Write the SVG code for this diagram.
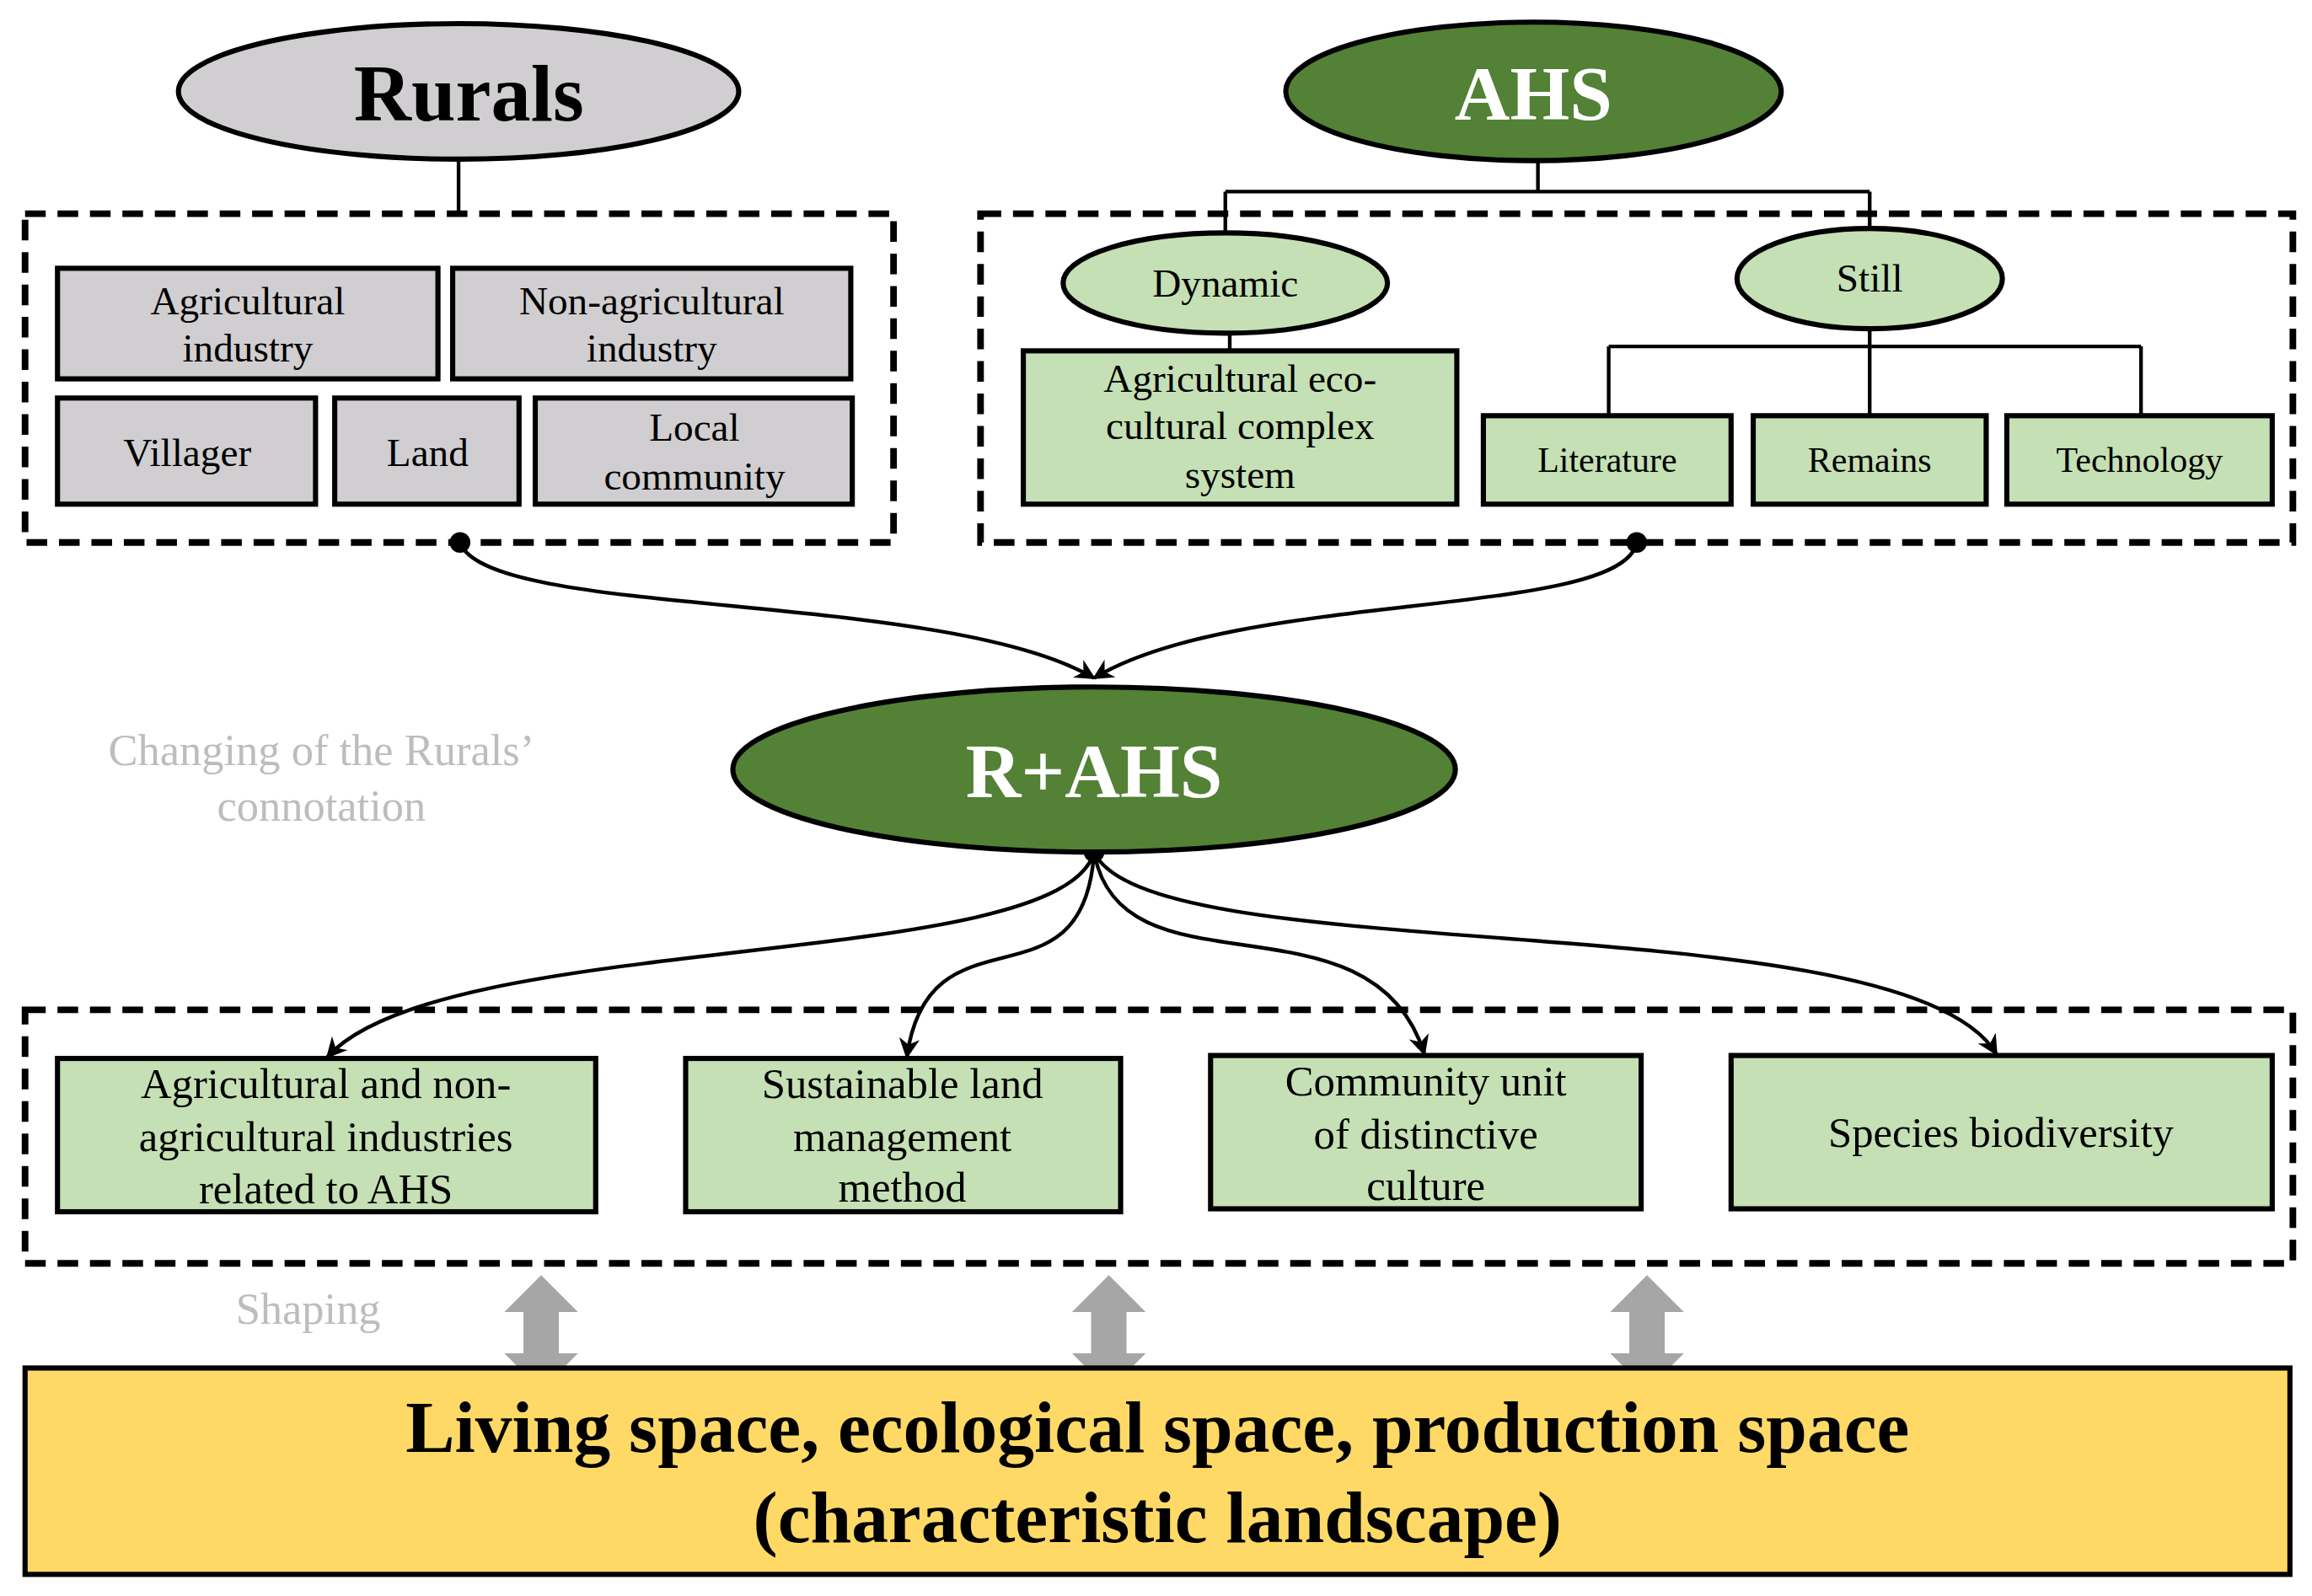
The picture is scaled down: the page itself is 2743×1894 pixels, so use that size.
<svg xmlns="http://www.w3.org/2000/svg" width="2743" height="1894" viewBox="0 0 2743 1894">
<style>
text{font-family:"Liberation Serif","DejaVu Serif",serif;text-anchor:middle;fill:#000}
.g{fill:#d0ced0;stroke:#000;stroke-width:3.5}
.lg{fill:#c5e0b4;stroke:#000;stroke-width:3.5}
.dg{fill:#538135;stroke:#000;stroke-width:3.5}
.dash{fill:none;stroke:#000;stroke-width:4.5;stroke-dasharray:14 8}
.ln{fill:none;stroke:#000;stroke-width:2.5}
.t{font-size:27px}
.s{font-size:24px}
.m{font-size:29px}
.w{fill:#fff;font-weight:bold;font-size:52px}
.gray{fill:#bdbdbd;font-size:30px}
.ga{fill:#a6a6a6}
</style>
<defs>
<marker id="ah" viewBox="0 0 10 10" refX="9" refY="5" markerWidth="7" markerHeight="7" orient="auto-start-reverse" markerUnits="userSpaceOnUse"><path d="M0,0 L10,5 L0,10 z"/></marker>
<marker id="ah2" viewBox="0 0 10 10" refX="9" refY="5" markerWidth="14" markerHeight="14" orient="auto" markerUnits="userSpaceOnUse"><path d="M0,0 L10,5 L0,10 L3,5 z"/></marker>
<path id="dbl" d="M0,-25 L25,0 L12,0 L12,28 L25,28 L0,53 L-25,28 L-12,28 L-12,0 L-25,0 z"/>
</defs>
<rect width="2743" height="1894" fill="#fff"/>
<g transform="scale(1.7494)">
<g id="connectors">
<line class="ln" x1="311" y1="108" x2="311" y2="145"/>
<path class="ln" d="M1043,109 V130 M831,130 H1268 M831,130 V158 M1268,130 V155"/>
<line class="ln" x1="834" y1="226" x2="834" y2="238"/>
<path class="ln" d="M1268,223 V282 M1091,235 H1452 M1091,235 V282 M1452,235 V282"/>
<circle cx="312" cy="368" r="7"/>
<circle cx="1110" cy="368" r="7"/>
<path class="ln" d="M312,368 C330,420 640,400 742,460" marker-end="url(#ah2)"/>
<path class="ln" d="M1110,368 C1100,420 840,400 742,460" marker-end="url(#ah2)"/>
<circle cx="742" cy="578" r="7"/>
<path class="ln" d="M742,578 C720,660 300,630 222,717" marker-end="url(#ah2)"/>
<path class="ln" d="M742,578 C735,690 630,610 615,717" marker-end="url(#ah2)"/>
<path class="ln" d="M742,578 C760,680 930,600 966,715" marker-end="url(#ah2)"/>
<path class="ln" d="M742,578 C780,660 1290,610 1354,715" marker-end="url(#ah2)"/>
<use href="#dbl" class="ga" x="367" y="890" transform="translate(0,0)"/>
<use href="#dbl" class="ga" x="752" y="890"/>
<use href="#dbl" class="ga" x="1117" y="890"/>
</g>
<g id="rurals"><ellipse class="g" cx="311" cy="62" rx="190" ry="46"/><text x="318" y="82" font-size="54" font-weight="bold">Rurals</text></g>
<rect class="dash" x="17" y="145" width="589" height="223"/>
<g id="agri"><rect class="g" x="39" y="182" width="258" height="75"/><text class="t" x="168" y="213">Agricultural</text><text class="t" x="168" y="245">industry</text></g>
<g id="nonagri"><rect class="g" x="307" y="182" width="270" height="75"/><text class="t" x="442" y="213">Non-agricultural</text><text class="t" x="442" y="245">industry</text></g>
<g id="villager"><rect class="g" x="39" y="270" width="175" height="72"/><text class="t" x="127" y="316">Villager</text></g>
<g id="land"><rect class="g" x="227" y="270" width="125" height="72"/><text class="t" x="290" y="316">Land</text></g>
<g id="local"><rect class="g" x="363" y="270" width="215" height="72"/><text class="t" x="471" y="299">Local</text><text class="t" x="471" y="332">community</text></g>
<g id="ahs"><ellipse class="dg" cx="1040" cy="62" rx="168" ry="47"/><text class="w" x="1040" y="81">AHS</text></g>
<rect class="dash" x="665" y="145" width="890" height="223"/>
<g id="dynamic"><ellipse class="lg" cx="831" cy="192" rx="110" ry="34"/><text class="t" x="831" y="201">Dynamic</text></g>
<g id="still"><ellipse class="lg" cx="1268" cy="189" rx="90" ry="34"/><text class="t" x="1268" y="198">Still</text></g>
<g id="aecc"><rect class="lg" x="694" y="238" width="294" height="104"/><text class="t" x="841" y="266">Agricultural eco-</text><text class="t" x="841" y="298">cultural complex</text><text class="t" x="841" y="331">system</text></g>
<g id="literature"><rect class="lg" x="1006" y="282" width="168" height="60"/><text class="s" x="1090" y="320">Literature</text></g>
<g id="remains"><rect class="lg" x="1189" y="282" width="158" height="60"/><text class="s" x="1268" y="320">Remains</text></g>
<g id="technology"><rect class="lg" x="1361" y="282" width="180" height="60"/><text class="s" x="1451" y="320">Technology</text></g>
<g id="rahs"><ellipse class="dg" cx="742" cy="522" rx="245" ry="56"/><text class="w" x="742" y="541">R+AHS</text></g>
<text class="gray" x="218" y="519">Changing of the Rurals’</text>
<text class="gray" x="218" y="557">connotation</text>
<rect class="dash" x="17" y="685" width="1538" height="172"/>
<g id="b1"><rect class="lg" x="39" y="718" width="365" height="104"/><text class="m" x="221" y="745">Agricultural and non-</text><text class="m" x="221" y="781">agricultural industries</text><text class="m" x="221" y="816">related to AHS</text></g>
<g id="b2"><rect class="lg" x="465" y="718" width="295" height="104"/><text class="m" x="612" y="745">Sustainable land</text><text class="m" x="612" y="781">management</text><text class="m" x="612" y="815">method</text></g>
<g id="b3"><rect class="lg" x="821" y="716" width="292" height="104"/><text class="m" x="967" y="743">Community unit</text><text class="m" x="967" y="779">of distinctive</text><text class="m" x="967" y="814">culture</text></g>
<g id="b4"><rect class="lg" x="1174" y="716" width="367" height="104"/><text class="m" x="1357" y="778">Species biodiversity</text></g>
<text class="gray" x="209" y="898">Shaping</text>
<g id="landscape"><rect x="17" y="928" width="1536" height="140" fill="#ffd966" stroke="#000" stroke-width="3.5"/><text x="785" y="985" font-size="50" font-weight="bold">Living space, ecological space, production space</text><text x="785" y="1046" font-size="50" font-weight="bold">(characteristic landscape)</text></g>
</g>
</svg>
